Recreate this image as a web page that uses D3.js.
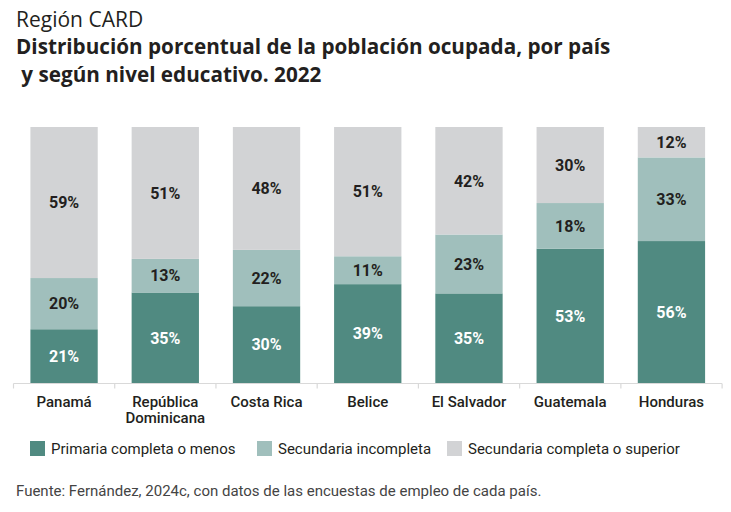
<!DOCTYPE html>
<html>
<head>
<meta charset="utf-8">
<script src="https://cdn.jsdelivr.net/npm/d3@7"></script>
<style>
  body { margin: 0; background: #fff; }
  svg { font-family: Roboto, "Noto Sans", sans-serif; }
</style>
</head>
<body>
<svg id="chart" width="731" height="512"></svg>
<script>
(function () {

    const countries = ["Panamá", "República Dominicana", "Costa Rica", "Belice", "El Salvador", "Guatemala", "Honduras"];
    const primaria = [21, 35, 30, 39, 35, 53, 56];
    const secIncompleta = [20, 13, 22, 11, 23, 18, 33];
    const secCompleta = [59, 51, 48, 51, 42, 30, 12];

    const seriesNames = ["Primaria completa o menos", "Secundaria incompleta", "Secundaria completa o superior"];
    const colors = ["#508a81", "#a0bfbc", "#d2d3d5"];
    const labelColors = ["#ffffff", "#231f20", "#231f20"];

    // rows for d3.stack
    const rows = countries.map((c, i) => ({
        country: c,
        s0: primaria[i],
        s1: secIncompleta[i],
        s2: secCompleta[i]
    }));

    const svg = d3.select('#chart');

    const x = d3.scaleBand()
        .domain(countries)
        .range([13.5, 722])
        .paddingInner(0.335)
        .paddingOuter(0.167);

    const y = d3.scaleLinear()
        .domain([0, 1])
        .range([383, 127]);

    const stack = d3.stack()
        .keys(["s0", "s1", "s2"])
        .offset(d3.stackOffsetExpand);  // every bar fills 100%

    const stacked = stack(rows);

    const layers = svg.selectAll('g.layer')
        .data(stacked)
        .enter()
        .append('g')
        .attr('class', 'layer')
        .attr('fill', (d, i) => colors[i]);

    layers.selectAll('rect')
        .data(d => d)
        .enter()
        .append('rect')
        .attr('x', d => x(d.data.country))
        .attr('width', x.bandwidth())
        .attr('y', d => y(d[1]))
        .attr('height', d => y(d[0]) - y(d[1]));

    // value labels
    layers.each(function (layer, i) {
        d3.select(this).selectAll('text')
            .data(layer)
            .enter()
            .append('text')
            .attr('x', d => x(d.data.country) + x.bandwidth() / 2)
            .attr('y', d => (y(d[0]) + y(d[1])) / 2)
            .attr('dy', '0.36em')
            .attr('text-anchor', 'middle')
            .attr('fill', labelColors[i])
            .attr('font-size', 16)
            .attr('font-weight', 700)
            .text(d => d.data[layer.key] + '%');
    });

    // x axis: line plus ticks at the band boundaries
    const step = x.step();
    const axisG = svg.append('g').attr('transform', 'translate(0,383.5)');
    axisG.append('line')
        .attr('x1', 13.5).attr('x2', 722)
        .attr('stroke', '#d9d9d9').attr('stroke-width', 1.2);
    axisG.selectAll('line.tick')
        .data(d3.range(countries.length + 1))
        .enter()
        .append('line')
        .attr('class', 'tick')
        .attr('x1', i => 13.5 + i * step)
        .attr('x2', i => 13.5 + i * step)
        .attr('y1', 0).attr('y2', 5)
        .attr('stroke', '#d9d9d9').attr('stroke-width', 1.2);

    // category labels, República Dominicana on two lines
    const catLines = [];
    countries.forEach(c => {
        const words = c === "República Dominicana" ? ["República", "Dominicana"] : [c];
        words.forEach((w, k) => catLines.push({ country: c, text: w, line: k }));
    });

    svg.append('g').selectAll('text')
        .data(catLines)
        .enter()
        .append('text')
        .attr('x', d => x(d.country) + x.bandwidth() / 2)
        .attr('y', d => 407 + d.line * 16)
        .attr('text-anchor', 'middle')
        .attr('font-size', 15)
        .attr('font-weight', 500)
        .attr('fill', '#231f20')
        .text(d => d.text);

    // titles
    svg.append('text')
        .attr('x', 16).attr('y', 27)
        .attr('font-family', '"Open Sans", sans-serif')
        .attr('font-size', 21)
        .attr('fill', '#231f20')
        .text('Región CARD');

    svg.append('text')
        .attr('x', 16).attr('y', 54)
        .attr('font-family', '"Open Sans", sans-serif')
        .attr('font-size', 20.7)
        .attr('font-weight', 700)
        .attr('fill', '#231f20')
        .text('Distribución porcentual de la población ocupada, por país');

    svg.append('text')
        .attr('x', 16).attr('y', 82)
        .attr('font-family', '"Open Sans", sans-serif')
        .attr('font-size', 20.7)
        .attr('font-weight', 700)
        .attr('fill', '#231f20')
        .attr('xml:space', 'preserve')
        .text(' y según nivel educativo. 2022');

    // legend
    const legendX = [30, 257, 447];
    const legend = svg.append('g').selectAll('g')
        .data(seriesNames)
        .enter()
        .append('g')
        .attr('transform', (d, i) => `translate(${legendX[i]},441)`);

    legend.append('rect')
        .attr('width', 15).attr('height', 15)
        .attr('fill', (d, i) => colors[i]);

    legend.append('text')
        .attr('x', 21).attr('y', 13)
        .attr('font-size', 15)
        .attr('fill', '#231f20')
        .text(d => d);

    // source
    svg.append('text')
        .attr('x', 16).attr('y', 496)
        .attr('font-size', 15)
        .attr('fill', '#444')
        .text('Fuente: Fernández, 2024c, con datos de las encuestas de empleo de cada país.');

})();
</script>
</body>
</html>
